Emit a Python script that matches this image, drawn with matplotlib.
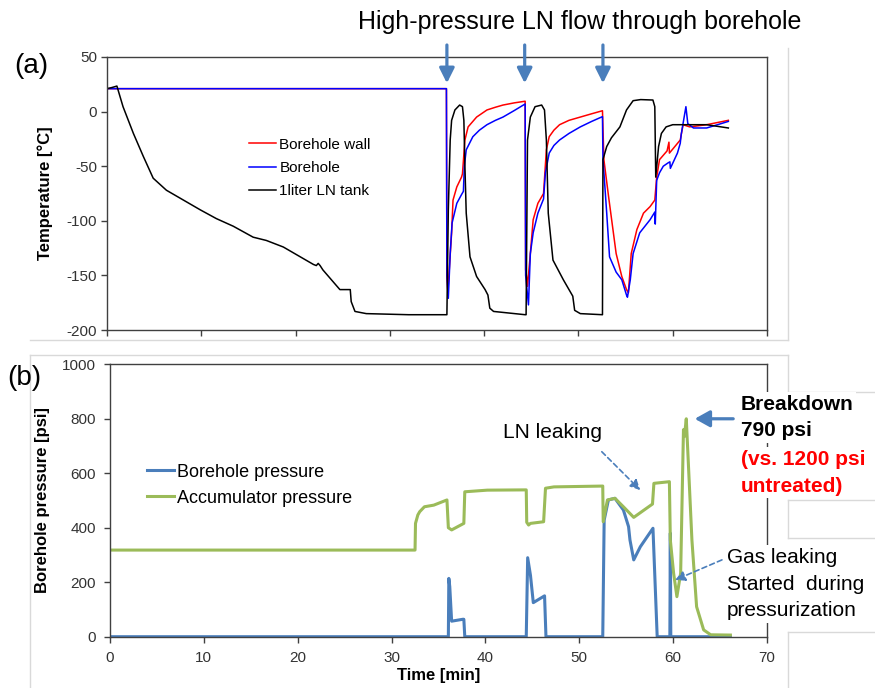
import matplotlib
matplotlib.use("Agg")
import matplotlib.pyplot as plt
from matplotlib.lines import Line2D

plt.rcParams["font.family"] = ["Liberation Sans", "DejaVu Sans"]
plt.rcParams["axes.unicode_minus"] = False

# --- (a) temperature traces [min, degC] ---
t_tank = [0, 0.5, 0.9, 1.05, 1.7, 2.8, 3.85, 4.9, 6.3, 8.1, 9.9, 11.6, 13.4, 15.5, 16.9,
          18.7, 20.5, 21.9, 22.2, 22.4, 22.6, 22.9, 24.0, 24.7, 25.8, 25.9, 26.3, 27.5, 32.0,
          36.05, 36.2, 36.4, 36.55, 36.9, 37.4, 37.7, 37.85, 37.96, 38.1, 38.5, 39.2, 40.1,
          40.4, 40.6, 41.0, 44.35,
          44.45, 44.6, 44.9, 45.4, 46.1, 46.4, 46.6, 46.8, 47.3, 48.4, 49.4, 49.6, 50.2, 52.55,
          52.6, 53.0, 53.5, 54.4, 55.1, 55.8, 56.6, 57.9, 58.1, 58.2, 58.5, 58.8, 59.3, 60.0,
          63.6, 65.9]
T_tank = [21, 22, 23, 23.4, 4.5, -20, -41, -61, -72, -81, -90, -98, -105, -115, -118,
          -124, -133, -140, -141, -139, -141, -145, -156, -163, -163, -174, -183, -185, -186,
          -186, -90, -26, -8, 1.5, 6, 4.5, -8, -50, -93, -133, -151, -163,
          -168, -180, -183, -186,
          -186, -26, -5, 4.5, 6, 1.5, -26, -93, -136, -154, -169, -182, -185, -186,
          -44, -32, -24, -14, 1.5, 10, 11, 10.6, 4.5, -60, -32, -20, -14, -12,
          -12, -15]

t_wall = [0, 36.0, 36.05, 36.15, 36.55, 36.7, 37.1, 37.6, 37.7, 37.96, 38.3, 38.8, 39.2,
          40.3, 41.2, 42.0, 43.2, 44.35,
          44.4, 44.5, 44.6, 44.9, 45.2, 45.7, 46.3, 46.6, 46.9, 47.4, 48.0, 49.0, 50.2,
          51.4, 52.55,
          52.7, 53.2, 54.0, 54.6, 55.1, 55.3, 55.6, 56.2, 56.9, 57.6, 58.1, 58.3, 58.6,
          59.4, 59.6, 59.65, 60.8, 61.1, 61.8, 63.6, 65.9]
T_wall = [21, 21, -150, -165, -111, -81, -69, -60, -57, -26, -14, -9, -5,
          1.5, 4, 6, 8, 9.5,
          -145, -151, -160, -130, -99, -84, -75, -35, -23, -17, -12, -8, -5,
          -2, 0.8,
          -44, -78, -130, -151, -163, -166, -130, -108, -93, -87, -81, -60, -44,
          -36, -28, -38, -26, -12, -14, -12, -8]

t_hole = [0, 36.0, 36.05, 36.2, 36.4, 36.6, 37.1, 37.6, 37.8, 37.9, 38.1, 38.8, 39.5,
          40.3, 41.2, 42.0, 43.2, 44.35,
          44.4, 44.7, 44.9, 45.2, 45.7, 46.3, 46.5, 46.9, 47.4, 48.0, 49.0, 50.2, 51.4, 52.55,
          52.6, 53.0, 53.3, 54.0, 54.6, 55.1, 55.2, 55.5, 55.8, 56.5, 57.6, 58.1, 58.15,
          58.3, 58.6, 59.0, 59.5, 59.7, 59.75, 60.5, 60.8, 60.9, 61.4, 61.6, 62.2, 63.6, 65.9]
T_hole = [21, 21, -150, -171, -130, -102, -84, -76, -73, -50, -35, -23, -17,
          -12, -8, -5, 1, 7,
          -150, -177, -130, -111, -93, -80, -56, -38, -31, -26, -20, -14, -9, -4.6,
          -43, -93, -133, -147, -154, -168, -170, -154, -130, -111, -99, -92, -103,
          -63, -56, -50, -47, -46, -52, -38, -29, -21, 4.5, -11, -15, -15, -9]

# --- (b) pressure traces [min, psi] ---
t_bh = [0, 36.05, 36.1, 36.2, 36.3, 36.4, 37.6, 37.7, 37.8, 44.35, 44.5, 44.8, 45.1, 46.3,
        46.45, 52.5, 52.65, 53.1, 53.8, 54.7, 55.25, 55.4, 55.8, 56.5, 57.85, 58.3, 59.65,
        59.7, 59.75, 66.1]
p_bh = [0, 0, 214, 184, 120, 57, 64, 64, 0, 0, 290, 225, 125, 150,
        0, 0, 428, 502, 508, 465, 404, 355, 282, 330, 398, 0, 0,
        380, 0, 0]

t_acc = [0, 32.5, 32.55, 32.8, 33.0, 33.5, 34.5, 35.9, 36.05, 36.4, 37.7, 37.8, 40.2, 44.35,
         44.4, 44.6, 44.8, 46.2, 46.4, 47.3, 52.5, 52.55, 53.0, 53.8, 54.7, 55.8, 56.9, 57.8,
         57.95, 59.6, 59.7, 60.05, 60.4, 60.8, 61.1, 61.2, 61.4, 62.0, 62.5, 63.25, 64.0, 66.1]
p_acc = [318, 318, 416, 447, 459, 477, 483, 502, 400, 392, 416, 532, 538, 539,
         420, 410, 416, 422, 545, 550, 553, 422, 502, 508, 477, 438, 465, 487,
         563, 569, 355, 233, 147, 233, 760, 735, 800, 355, 110, 25, 7, 6]

flow_times = [36.05, 44.3, 52.6]

W, H = 875, 688
fig = plt.figure(figsize=(W / 100, H / 100), dpi=100)

def px(x0, y0, x1, y1):
    return [x0 / W, 1 - y1 / H, (x1 - x0) / W, (y1 - y0) / H]

ax1 = fig.add_axes(px(107, 57, 767, 330))
ax2 = fig.add_axes(px(110, 364.3, 767, 636.7))

grey = "#404040"
for ax in (ax1, ax2):
    for s in ax.spines.values():
        s.set_color(grey)
        s.set_linewidth(1.0)
    ax.tick_params(direction="out", length=4, width=1, color=grey,
                   labelcolor="#333333", labelsize=11)

# --- (a) ---
ax1.plot(t_wall, T_wall, color="#ff0000", lw=1.1, label="Borehole wall")
ax1.plot(t_hole, T_hole, color="#0000ff", lw=1.1, label="Borehole")
ax1.plot(t_tank, T_tank, color="black", lw=1.1, label="1liter LN tank")
ax1.set_xlim(0, 70)
ax1.set_ylim(-200, 50)
ax1.set_xticks(range(0, 71, 10))
ax1.set_xticklabels([])
ax1.set_yticks(range(-200, 51, 50))
ax1.tick_params(axis="y", pad=3)
ax1.set_ylabel("Temperature [°C]", fontsize=12, fontweight="bold")
ax1.yaxis.set_label_coords(-0.082, 0.5)
ax1.legend(loc="upper left", bbox_to_anchor=(0.215, 0.705), frameon=False, fontsize=11,
           handlelength=1.8, handletextpad=0.2, labelspacing=0.62, borderpad=0,
           borderaxespad=0)

for tf in flow_times:
    ax1.annotate("", xy=(tf, 26), xytext=(tf, 61), annotation_clip=False,
                 arrowprops=dict(arrowstyle="-|>,head_length=0.9,head_width=0.45",
                                 color="#4a7ebb", lw=2.3, shrinkA=0, shrinkB=0))

# --- (b) ---
ax2.plot(t_bh, p_bh, color="#4a7ebb", lw=2.2, label="Borehole pressure")
ax2.plot(t_acc, p_acc, color="#9bbb59", lw=2.2, label="Accumulator pressure")
ax2.set_xlim(0, 70)
ax2.set_ylim(0, 1000)
ax2.set_xticks(range(0, 71, 10))
ax2.set_yticks(range(0, 1001, 200))
ax2.tick_params(axis="both", pad=6)
ax2.set_ylabel("Borehole pressure [psi]", fontsize=12, fontweight="bold")
ax2.yaxis.set_label_coords(-0.091, 0.5)
ax2.set_xlabel("Time [min]", fontsize=12, fontweight="bold")
ax2.xaxis.set_label_coords(0.5, -0.115)
ax2.legend(loc="upper left", bbox_to_anchor=(0.056, 0.635), frameon=False, fontsize=13,
           handlelength=1.5, handletextpad=0.2, labelspacing=0.5, borderpad=0,
           borderaxespad=0)

ax2.text(47.1, 751, "LN leaking", fontsize=15, ha="center", va="center")
ax2.annotate("", xy=(56.5, 538), xytext=(52.4, 679),
             arrowprops=dict(arrowstyle="-|>,head_length=0.6,head_width=0.3",
                             color="#4a7ebb", lw=1.2, linestyle=(0, (3, 2)),
                             shrinkA=0, shrinkB=0))
ax2.annotate("", xy=(60.2, 208), xytext=(65.2, 282),
             arrowprops=dict(arrowstyle="-|>,head_length=0.6,head_width=0.3",
                             color="#4a7ebb", lw=1.2, linestyle=(0, (3, 2)),
                             shrinkA=0, shrinkB=0))
ax2.annotate("", xy=(62.3, 800), xytext=(66.4, 800), annotation_clip=False,
             arrowprops=dict(arrowstyle="-|>,head_length=0.9,head_width=0.5",
                             color="#4a7ebb", lw=2.3, shrinkA=0, shrinkB=0))

box = dict(facecolor="white", edgecolor="none", pad=2)
fig.text(741 / W, 1 - 395 / H, "Breakdown\n790 psi", fontsize=15, fontweight="bold",
         ha="left", va="top", linespacing=1.5, bbox=box)
fig.text(741 / W, 1 - 450 / H, "(vs. 1200 psi\nuntreated)", fontsize=15, fontweight="bold",
         color="#ff0000", ha="left", va="top", linespacing=1.5, bbox=box)
fig.text(727 / W, 1 - 548 / H, "Gas leaking\nStarted  during\npressurization", fontsize=15,
         ha="left", va="top", linespacing=1.5, bbox=box)

# --- titles / panel letters ---
fig.text(580 / W, 1 - 22 / H, "High-pressure LN flow through borehole", fontsize=18,
         ha="center", va="center")
fig.text(14 / W, 1 - 66 / H, "(a)", fontsize=20, ha="left", va="center")
fig.text(7 / W, 1 - 378 / H, "(b)", fontsize=20, ha="left", va="center")

# faint panel frame lines from the original composite
frame = "#d9d9d9"
for xs, ys in [((788, 788), (48, 340)), ((30, 788), (340, 340)), ((30, 788), (355, 355)),
               ((30, 30), (355, 688)), ((788, 788), (355, 392)), ((788, 788), (500, 538)),
               ((788, 788), (632, 688)), ((788, 875), (392, 392)), ((788, 875), (500, 500)),
               ((788, 875), (538, 538)), ((788, 875), (632, 632))]:
    fig.add_artist(Line2D([x / W for x in xs], [1 - y / H for y in ys],
                          transform=fig.transFigure, color=frame, lw=1, zorder=-1))

fig.savefig("out.png", dpi=100)
